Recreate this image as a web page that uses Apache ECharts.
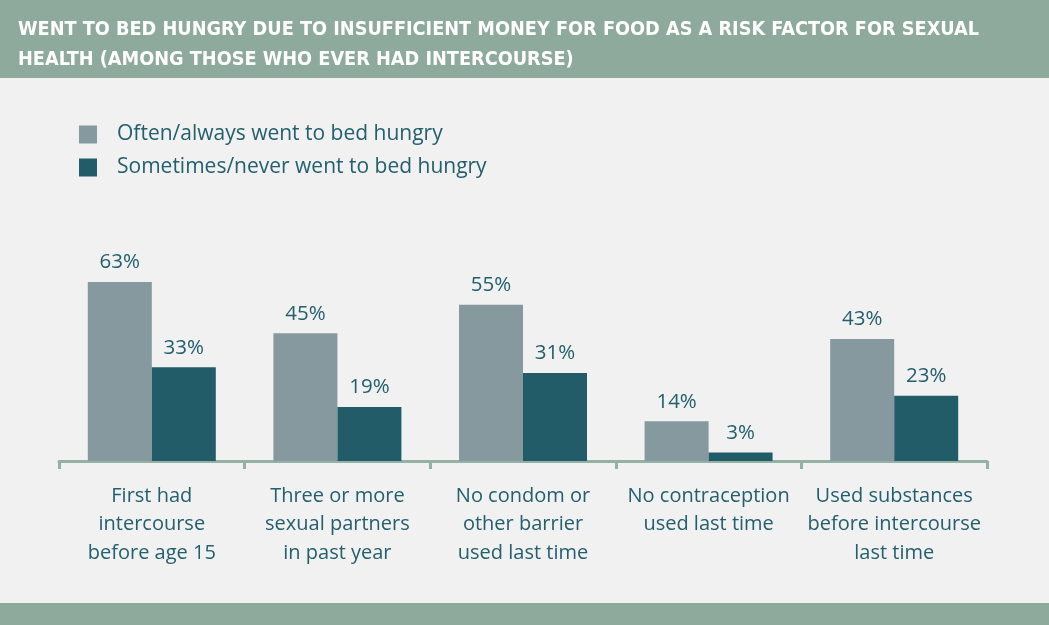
<!DOCTYPE html>
<html>
<head>
<meta charset="utf-8">
<script src="https://cdn.jsdelivr.net/npm/echarts@6/dist/echarts.min.js"></script>
<style>
  html, body { margin: 0; padding: 0; background: #f1f1f1; }
  #chart { width: 1049px; height: 625px; }
</style>
</head>
<body>
<div id="chart"></div>
<script>
// categories and series values (percent)
const categories = [
    'First had\nintercourse\nbefore age 15',
    'Three or more\nsexual partners\nin past year',
    'No condom or\nother barrier\nused last time',
    'No contraception\nused last time',
    'Used substances\nbefore intercourse\nlast time'
];
const oftenHungry = [63, 45, 55, 14, 43];
const sometimesHungry = [33, 19, 31, 3, 23];
const seriesNames = ['Often/always went to bed hungry', 'Sometimes/never went to bed hungry'];

const textColor = '#235f6d';
const bandColor = '#8daa9d';
const bodyFont = 'Open Sans, sans-serif';

let myChart = echarts.init(document.getElementById('chart'));
// 绘制图表
myChart.setOption({
    backgroundColor: '#f1f1f1',
    animation: false,
    title: {
        text: 'WENT TO BED HUNGRY DUE TO INSUFFICIENT MONEY FOR FOOD AS A RISK FACTOR FOR SEXUAL\nHEALTH (AMONG THOSE WHO EVER HAD INTERCOURSE)',
        left: 18,
        top: 15,
        padding: 0,
        textStyle: {
            color: '#ffffff',
            fontFamily: 'DejaVu Sans Condensed, sans-serif',
            fontWeight: 'bold',
            fontSize: 19.7,
            lineHeight: 30
        }
    },
    graphic: [
        {type: 'rect', z: -1, shape: {x: 0, y: 0, width: 1049, height: 78}, style: {fill: bandColor}},
        {type: 'rect', z: -1, shape: {x: 0, y: 603, width: 1049, height: 22}, style: {fill: bandColor}}
    ],
    legend: {
        orient: 'vertical',
        left: 79,
        top: 124,
        padding: 0,
        itemWidth: 18,
        itemHeight: 18,
        itemGap: 12,
        icon: 'rect',
        data: seriesNames,
        textStyle: {
            color: textColor,
            fontFamily: bodyFont,
            fontSize: 21,
            lineHeight: 18,
            padding: [0, 0, 0, 15]
        }
    },
    grid: {
        left: 59,
        width: 928,
        top: 177,
        bottom: 164
    },
    xAxis: {
        type: 'category',
        data: categories,
        axisLine: {lineStyle: {color: '#93b1a5', width: 3}},
        axisTick: {show: true, length: 8, lineStyle: {color: '#93b1a5', width: 3}},
        axisLabel: {
            color: textColor,
            fontFamily: bodyFont,
            fontSize: 20,
            lineHeight: 28.5,
            margin: 21,
            interval: 0
        }
    },
    yAxis: {
        type: 'value',
        min: 0,
        max: 100,
        show: false,
        splitLine: {show: false}
    },
    series: [
        {
            name: seriesNames[0],
            type: 'bar',
            data: oftenHungry,
            barWidth: 64,
            barGap: '0%',
            itemStyle: {color: '#86999f'},
            label: {
                show: true,
                position: 'top',
                distance: 9,
                formatter: '{c}%',
                color: textColor,
                fontFamily: bodyFont,
                fontSize: 20.5
            }
        },
        {
            name: seriesNames[1],
            type: 'bar',
            data: sometimesHungry,
            barWidth: 64,
            barGap: '0%',
            itemStyle: {color: '#225c69'},
            label: {
                show: true,
                position: 'top',
                distance: 9,
                formatter: '{c}%',
                color: textColor,
                fontFamily: bodyFont,
                fontSize: 20.5
            }
        }
    ]
});
</script>
</body>
</html>
